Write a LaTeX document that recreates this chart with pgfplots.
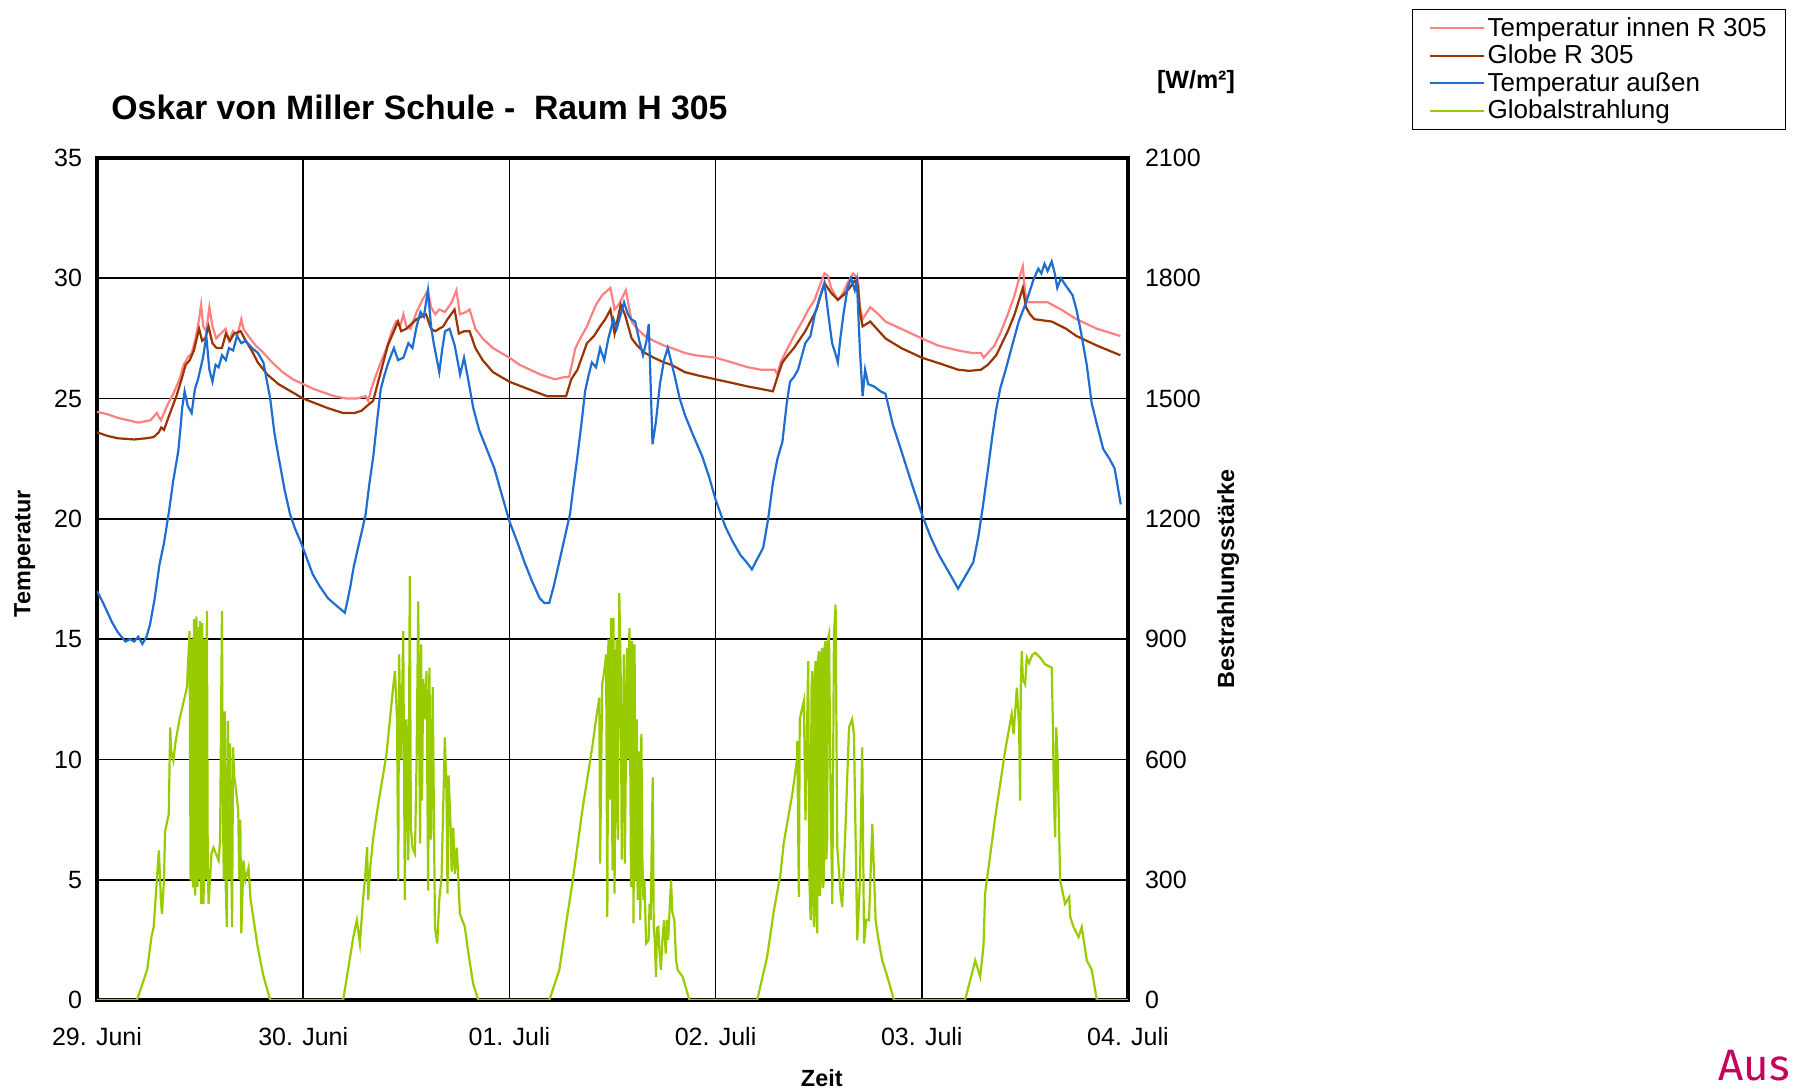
\documentclass[border=0pt]{standalone}
\usepackage{pgfplots}
\pgfplotsset{compat=1.18}
\usepackage{fontspec}
\setmainfont{Liberation Sans}
\newfontfamily\ausfont{Fira Sans}

\definecolor{tinnen}{RGB}{255,128,128}
\definecolor{globe}{RGB}{153,51,0}
\definecolor{taussen}{RGB}{30,110,210}
\definecolor{gstrahl}{RGB}{153,204,0}
\definecolor{ausmag}{RGB}{200,0,90}

\begin{document}
\begin{tikzpicture}
\path[use as bounding box] (0,0) rectangle (898pt,545.5pt);

\begin{axis}[
  at={(48.5pt,45.5pt)}, anchor=south west,
  width=515.5pt, height=421pt, scale only axis,
  xmin=0, xmax=5, ymin=0, ymax=35,
  xtick={0,1,2,3,4,5},
  xticklabels={29. Juni,30. Juni,01. Juli,02. Juli,03. Juli,04. Juli},
  ytick={0,5,...,35},
  grid=major,
  major grid style={black, line width=0.8pt},
  axis line style={black, line width=2.2pt},
  major tick length=0pt,
  tick label style={font=\fontsize{12.5}{15}\selectfont},
  xticklabel style={yshift=-10pt},
  yticklabel style={xshift=-4pt},
  /pgf/number format/assume math mode=true,
  title={\bfseries Oskar von Miller Schule -\ \ Raum H 305},
  title style={at={(axis description cs:0.0136,1.031)}, anchor=base west,
    font=\fontsize{16.9}{20}\selectfont, inner sep=0pt},
  xlabel={\bfseries Zeit},
  xlabel style={at={(axis description cs:0.703,-0.093)}, anchor=center,
    font=\fontsize{11.7}{14}\selectfont},
  ylabel={\bfseries Temperatur},
  ylabel style={at={(axis description cs:-0.07,0.53)}, anchor=center,
    font=\fontsize{11.7}{14}\selectfont},
  legend style={at={(axis description cs:1.2755,1.177)}, anchor=north west,
    draw=black, line width=0.6pt, fill=white,
    font=\fontsize{13}{14}\selectfont,
    inner xsep=8pt, inner ysep=2.5pt, row sep=-0.2pt,
    nodes={inner sep=1.5pt}},
  legend cell align=left,
  legend image code/.code={\draw[#1, line width=1pt] (0pt,0pt) -- (27pt,0pt);},
]
\addplot[tinnen, line width=1.1pt] coordinates {
(0.00,24.45) (0.05,24.35) (0.10,24.2) (0.15,24.1) (0.20,24.0) (0.26,24.1) (0.29,24.4) (0.31,24.1)
(0.34,24.7) (0.37,25.2) (0.40,25.8) (0.42,26.4) (0.44,26.7) (0.46,26.9) (0.48,27.6) (0.495,28.3)
(0.505,28.9) (0.515,28.0) (0.53,27.8) (0.545,28.8) (0.56,28.0) (0.578,27.5) (0.60,27.7) (0.624,27.9)
(0.64,27.4) (0.66,27.8) (0.68,27.6) (0.70,28.3) (0.71,27.9) (0.734,27.6) (0.77,27.2) (0.807,26.9)
(0.85,26.5) (0.90,26.1) (0.95,25.8) (1.00,25.6) (1.05,25.4) (1.10,25.25) (1.15,25.1) (1.211,25.0)
(1.26,25.0) (1.303,25.1) (1.315,24.9) (1.33,25.4) (1.35,25.9) (1.376,26.5) (1.40,27.0) (1.43,27.8)
(1.45,28.2) (1.47,28.0) (1.486,28.5) (1.50,28.0) (1.52,27.9) (1.55,28.6) (1.578,29.1) (1.605,29.5)
(1.62,28.8) (1.64,28.5) (1.66,28.7) (1.688,28.6) (1.72,29.0) (1.743,29.5) (1.76,28.5) (1.79,28.6)
(1.807,28.7) (1.835,27.9) (1.87,27.5) (1.92,27.1) (1.96,26.9) (2.00,26.7) (2.05,26.4) (2.10,26.2)
(2.15,26.0) (2.22,25.8) (2.27,25.9) (2.29,25.9) (2.32,27.1) (2.35,27.6) (2.376,28.0) (2.40,28.5)
(2.42,28.9) (2.45,29.3) (2.49,29.6) (2.51,28.7) (2.53,28.9) (2.565,29.5) (2.593,28.2) (2.62,27.9)
(2.657,27.6) (2.70,27.4) (2.75,27.2) (2.787,27.1) (2.85,26.9) (2.90,26.8) (3.00,26.7) (3.08,26.5)
(3.157,26.3) (3.22,26.2) (3.287,26.2) (3.30,26.0) (3.315,26.5) (3.35,27.1) (3.38,27.6) (3.426,28.3)
(3.45,28.7) (3.48,29.1) (3.51,29.8) (3.528,30.2) (3.545,30.1) (3.56,29.6) (3.593,29.1) (3.62,29.4)
(3.639,29.8) (3.667,30.2) (3.69,30.0) (3.70,28.8) (3.713,28.3) (3.75,28.8) (3.79,28.5) (3.824,28.2)
(3.90,27.9) (4.00,27.5) (4.08,27.2) (4.176,27.0) (4.24,26.9) (4.287,26.9) (4.30,26.7) (4.352,27.2)
(4.38,27.7) (4.417,28.5) (4.45,29.3) (4.472,30.0) (4.49,30.5) (4.50,29.5) (4.51,29.0) (4.55,29.0)
(4.61,29.0) (4.676,28.7) (4.75,28.3) (4.85,27.9) (4.963,27.6)
};
\addlegendentry{Temperatur innen R 305}
\addplot[globe, line width=1.1pt] coordinates {
(0.00,23.6) (0.05,23.45) (0.10,23.35) (0.18,23.3) (0.24,23.35) (0.275,23.4) (0.30,23.6) (0.312,23.8)
(0.325,23.7) (0.35,24.3) (0.385,25.1) (0.41,25.8) (0.43,26.4) (0.45,26.6) (0.47,27.0) (0.495,27.9)
(0.51,27.4) (0.525,27.5) (0.541,28.0) (0.56,27.3) (0.58,27.1) (0.606,27.1) (0.625,27.7) (0.645,27.4)
(0.665,27.7) (0.697,27.8) (0.715,27.5) (0.75,27.0) (0.78,26.5) (0.826,26.0) (0.88,25.6) (0.94,25.3)
(1.00,25.0) (1.06,24.8) (1.12,24.6) (1.193,24.4) (1.25,24.4) (1.284,24.5) (1.31,24.7) (1.339,24.9)
(1.376,26.1) (1.41,27.2) (1.44,27.8) (1.46,28.2) (1.475,27.8) (1.50,27.9) (1.55,28.3) (1.596,28.5)
(1.62,27.9) (1.64,27.8) (1.679,28.0) (1.70,28.3) (1.734,28.7) (1.755,27.7) (1.78,27.8) (1.807,27.8)
(1.835,27.1) (1.87,26.6) (1.92,26.1) (1.96,25.9) (2.00,25.7) (2.06,25.5) (2.12,25.3) (2.183,25.1)
(2.23,25.1) (2.275,25.1) (2.30,25.8) (2.33,26.2) (2.376,27.3) (2.41,27.6) (2.44,28.0) (2.465,28.3)
(2.49,28.7) (2.51,27.7) (2.54,28.9) (2.56,28.5) (2.593,27.5) (2.62,27.2) (2.657,26.9) (2.70,26.7)
(2.75,26.5) (2.787,26.4) (2.85,26.1) (2.92,25.95) (3.00,25.8) (3.08,25.65) (3.157,25.5) (3.22,25.4)
(3.278,25.3) (3.30,25.9) (3.324,26.5) (3.35,26.8) (3.38,27.1) (3.435,27.8) (3.49,28.7) (3.51,29.3)
(3.528,29.8) (3.56,29.4) (3.593,29.1) (3.62,29.3) (3.65,29.6) (3.675,29.9) (3.69,29.7) (3.70,28.6)
(3.713,28.0) (3.75,28.2) (3.824,27.5) (3.90,27.1) (4.00,26.7) (4.09,26.45) (4.176,26.2) (4.23,26.15)
(4.287,26.2) (4.32,26.4) (4.361,26.8) (4.417,27.8) (4.45,28.5) (4.49,29.6) (4.505,28.8) (4.525,28.5)
(4.546,28.3) (4.63,28.2) (4.70,27.9) (4.75,27.6) (4.85,27.2) (4.963,26.8)
};
\addlegendentry{Globe R 305}
\addplot[taussen, line width=1.1pt] coordinates {
(0.00,17.0) (0.03,16.5) (0.073,15.7) (0.10,15.3) (0.138,14.9) (0.16,15.0) (0.18,14.9) (0.20,15.1)
(0.22,14.8) (0.24,15.1) (0.257,15.6) (0.28,16.7) (0.303,18.1) (0.325,19.0) (0.349,20.3) (0.37,21.6)
(0.394,22.8) (0.405,23.8) (0.413,24.6) (0.425,25.3) (0.44,24.7) (0.459,24.4) (0.475,25.4) (0.49,25.8)
(0.514,26.7) (0.53,27.6) (0.545,26.2) (0.56,25.7) (0.575,26.4) (0.59,26.3) (0.606,26.8) (0.625,26.6)
(0.64,27.1) (0.66,27.0) (0.679,27.6) (0.70,27.3) (0.72,27.4) (0.752,27.1) (0.78,26.9) (0.807,26.5)
(0.84,25.0) (0.86,23.6) (0.88,22.6) (0.91,21.2) (0.936,20.2) (0.96,19.6) (0.99,19.0) (1.02,18.3)
(1.046,17.7) (1.08,17.2) (1.12,16.7) (1.16,16.4) (1.202,16.1) (1.215,16.6) (1.229,17.2) (1.245,18.0)
(1.266,18.8) (1.285,19.5) (1.303,20.2) (1.32,21.4) (1.34,22.6) (1.36,24.2) (1.376,25.4) (1.395,26.0)
(1.413,26.5) (1.44,27.1) (1.46,26.6) (1.486,26.7) (1.51,27.3) (1.53,27.1) (1.55,28.0) (1.569,28.6)
(1.585,28.4) (1.605,29.5) (1.62,28.0) (1.633,27.3) (1.66,26.1) (1.675,27.1) (1.688,27.8) (1.71,27.9)
(1.735,27.2) (1.761,26.0) (1.78,26.7) (1.80,25.8) (1.825,24.6) (1.853,23.7) (1.89,22.9) (1.927,22.1)
(1.96,21.1) (2.00,19.9) (2.04,19.0) (2.073,18.2) (2.11,17.4) (2.147,16.7) (2.17,16.5) (2.193,16.5)
(2.215,17.2) (2.239,18.1) (2.265,19.1) (2.294,20.2) (2.31,21.3) (2.33,22.6) (2.35,24.0) (2.367,25.3)
(2.385,26.0) (2.40,26.5) (2.42,26.3) (2.44,27.1) (2.46,26.6) (2.48,27.5) (2.505,28.3) (2.52,27.9)
(2.54,28.5) (2.556,29.0) (2.575,28.5) (2.59,28.3) (2.61,28.2) (2.63,27.4) (2.648,26.8) (2.665,27.4)
(2.676,28.1) (2.694,23.1) (2.71,24.0) (2.73,25.6) (2.75,26.6) (2.768,27.1) (2.80,26.0) (2.826,25.0)
(2.852,24.3) (2.89,23.5) (2.935,22.6) (2.97,21.7) (3.00,20.8) (3.046,19.7) (3.08,19.1) (3.12,18.5)
(3.15,18.2) (3.176,17.9) (3.20,18.3) (3.231,18.8) (3.255,20.0) (3.278,21.5) (3.30,22.5) (3.324,23.2)
(3.345,24.8) (3.361,25.7) (3.38,25.9) (3.40,26.2) (3.435,27.3) (3.46,27.6) (3.481,28.5) (3.505,29.2)
(3.528,29.8) (3.545,28.6) (3.565,27.3) (3.58,26.9) (3.593,26.5) (3.605,27.5) (3.62,28.5) (3.64,29.6)
(3.657,30.0) (3.675,29.5) (3.685,29.9) (3.70,27.0) (3.713,25.1) (3.725,26.2) (3.74,25.6) (3.769,25.5)
(3.80,25.3) (3.824,25.2) (3.86,23.9) (3.898,22.9) (3.95,21.5) (4.00,20.2) (4.04,19.3) (4.083,18.5)
(4.13,17.8) (4.176,17.1) (4.21,17.6) (4.25,18.2) (4.275,19.3) (4.296,20.5) (4.32,22.0) (4.343,23.5)
(4.36,24.5) (4.38,25.4) (4.41,26.3) (4.435,27.1) (4.47,28.2) (4.51,29.1) (4.54,29.9) (4.565,30.4)
(4.58,30.2) (4.595,30.6) (4.61,30.3) (4.63,30.7) (4.645,30.2) (4.657,29.6) (4.675,30.0) (4.69,29.8)
(4.731,29.3) (4.75,28.7) (4.769,27.9) (4.80,26.4) (4.824,24.8) (4.85,23.9) (4.88,22.9) (4.91,22.5)
(4.935,22.1) (4.957,21.0) (4.965,20.6)
};
\addlegendentry{Temperatur außen}
\addlegendimage{gstrahl}
\addlegendentry{Globalstrahlung}
\end{axis}

\begin{axis}[
  at={(48.5pt,45.5pt)}, anchor=south west,
  width=515.5pt, height=421pt, scale only axis,
  xmin=0, xmax=5, ymin=0, ymax=2100,
  ytick={0,300,...,2100},
  axis y line*=right, axis x line=none,
  axis line style={black, line width=2.2pt},
  major tick length=0pt,
  tick label style={font=\fontsize{12.5}{15}\selectfont},
  yticklabel style={xshift=5pt},
  /pgf/number format/assume math mode=true,
  /pgf/number format/1000 sep={},
  ylabel={\bfseries Bestrahlungsstärke},
  ylabel style={at={(axis description cs:1.097,0.5)}, anchor=center, rotate=0,
    font=\fontsize{11.7}{14}\selectfont},
]
\addplot[gstrahl, line width=1.1pt] coordinates {
(0,0) (0.194,0) (0.243,75) (0.265,160) (0.275,182) (0.29,298) (0.30,373) (0.31,250) (0.315,215)
(0.325,300) (0.33,420) (0.348,464) (0.355,680) (0.36,620) (0.37,597) (0.38,640) (0.40,700) (0.436,779)
(0.449,920) (0.454,298) (0.46,900) (0.465,280) (0.47,950) (0.477,260) (0.482,957) (0.487,282)
(0.49,930) (0.497,300) (0.50,945) (0.505,240) (0.51,940) (0.517,240) (0.523,900) (0.527,300)
(0.533,970) (0.537,350) (0.541,240) (0.548,300) (0.555,365) (0.565,380) (0.59,348) (0.597,400)
(0.606,970) (0.61,500) (0.615,300) (0.62,720) (0.625,260) (0.63,182) (0.635,696) (0.64,300)
(0.645,640) (0.655,182) (0.66,630) (0.665,560) (0.675,520) (0.685,472) (0.69,300) (0.695,450)
(0.70,166) (0.71,348) (0.72,300) (0.735,330) (0.745,250) (0.76,199) (0.78,130) (0.808,58) (0.84,0)
(1.194,0) (1.243,157) (1.26,199) (1.275,141) (1.29,250) (1.299,298) (1.31,381) (1.315,249)
(1.325,330) (1.34,406) (1.364,489) (1.404,613) (1.436,779) (1.445,820) (1.455,700) (1.461,298)
(1.465,862) (1.475,600) (1.485,920) (1.49,500) (1.493,249) (1.50,700) (1.51,348) (1.517,1057)
(1.522,431) (1.53,380) (1.542,365) (1.55,600) (1.558,994) (1.562,680) (1.567,390) (1.572,887)
(1.576,497) (1.582,800) (1.59,700) (1.598,820) (1.606,273) (1.612,829) (1.62,400) (1.628,780)
(1.639,182) (1.65,141) (1.66,250) (1.671,307) (1.687,655) (1.695,514) (1.70,265) (1.705,560)
(1.715,431) (1.72,320) (1.728,430) (1.735,315) (1.745,380) (1.76,215) (1.784,182) (1.80,120)
(1.824,41) (1.849,0)
(2.194,0) (2.242,75) (2.275,190) (2.307,298) (2.356,481) (2.404,638) (2.42,700) (2.436,754)
(2.44,340) (2.45,787) (2.46,820) (2.469,862) (2.475,207) (2.48,900) (2.485,500) (2.493,953)
(2.50,323) (2.505,953) (2.51,265) (2.515,800) (2.52,900) (2.525,400) (2.533,1015) (2.54,800)
(2.545,350) (2.555,862) (2.56,340) (2.57,878) (2.575,600) (2.582,928) (2.59,282) (2.595,895)
(2.602,191) (2.607,887) (2.612,298) (2.618,700) (2.622,250) (2.63,620) (2.635,200) (2.64,663)
(2.645,350) (2.65,250) (2.655,300) (2.663,141) (2.675,149) (2.68,240) (2.685,200) (2.695,555)
(2.70,182) (2.705,150) (2.711,58) (2.716,180) (2.722,182) (2.728,120) (2.735,75) (2.742,150)
(2.75,199) (2.758,116) (2.765,200) (2.77,150) (2.784,298) (2.79,220) (2.80,199) (2.808,100)
(2.816,75) (2.84,58) (2.873,0)
(3.202,0) (3.25,108) (3.283,224) (3.315,315) (3.33,390) (3.372,514) (3.395,600) (3.396,646)
(3.404,257) (3.408,700) (3.417,721) (3.428,746) (3.436,448) (3.449,845) (3.455,300) (3.461,199)
(3.465,780) (3.469,820) (3.473,250) (3.477,182) (3.481,800) (3.485,845) (3.489,220) (3.493,166)
(3.497,850) (3.501,870) (3.505,260) (3.509,298) (3.513,860) (3.517,878) (3.521,280) (3.525,300)
(3.529,880) (3.533,895) (3.537,350) (3.541,400) (3.545,900) (3.55,912) (3.558,500) (3.566,240)
(3.574,912) (3.582,986) (3.59,381) (3.606,265) (3.614,232) (3.63,431) (3.647,680) (3.662,700)
(3.671,663) (3.687,149) (3.70,300) (3.711,630) (3.72,141) (3.73,200) (3.744,199) (3.76,439)
(3.776,199) (3.79,150) (3.808,99) (3.833,58) (3.865,0)
(4.21,0) (4.25,80) (4.259,99) (4.283,58) (4.299,133) (4.307,265) (4.356,456) (4.404,621) (4.436,713)
(4.445,663) (4.461,779) (4.472,680) (4.477,497) (4.48,780) (4.485,870) (4.49,800) (4.501,787)
(4.509,854) (4.52,840) (4.535,860) (4.55,866) (4.574,854) (4.598,837) (4.63,829) (4.636,680)
(4.641,500) (4.647,406) (4.652,680) (4.659,597) (4.671,298) (4.695,240) (4.715,257) (4.72,207)
(4.736,182) (4.76,157) (4.776,182) (4.80,99) (4.824,75) (4.849,0) (5,0)
};
\end{axis}

\node[anchor=center, font=\bfseries\fontsize{12.5}{15}\selectfont] at (598pt,504.5pt) {[W/m²]};
\node[anchor=base east, inner sep=0pt, text=ausmag, font=\ausfont\fontsize{22}{26}\selectfont] at (895pt,5pt) {Aus};
\end{tikzpicture}
\end{document}
